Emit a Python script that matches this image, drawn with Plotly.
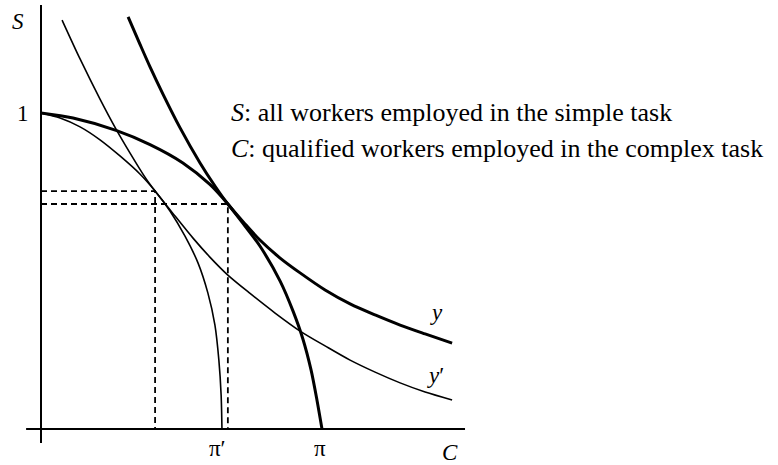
import plotly.graph_objects as go

# Production frontier with the full pool of qualified workers (ends at pi)
frontier_C = [0.0, 0.114, 0.267, 0.388, 0.505, 0.601, 0.665, 0.726, 0.779, 0.851, 0.897, 0.932, 0.961, 0.982, 1.0]
frontier_S = [1.0, 0.984, 0.945, 0.900, 0.842, 0.774, 0.712, 0.642, 0.579, 0.468, 0.373, 0.285, 0.187, 0.092, 0.0]

# Production frontier with the reduced pool (ends at pi')
frontier2_C = [0.0, 0.068, 0.139, 0.210, 0.281, 0.352, 0.406, 0.459, 0.512, 0.559, 0.594, 0.619, 0.633, 0.641, 0.644]
frontier2_S = [1.0, 0.984, 0.956, 0.915, 0.864, 0.807, 0.753, 0.690, 0.611, 0.525, 0.430, 0.329, 0.218, 0.108, 0.0]

# Isoquant y
iso_y_C = [0.310, 0.352, 0.388, 0.434, 0.495, 0.566, 0.619, 0.665, 0.726, 0.779, 0.851, 0.922, 1.011, 1.100, 1.189, 1.278, 1.367, 1.463]
iso_y_S = [1.304, 1.218, 1.146, 1.060, 0.953, 0.842, 0.769, 0.712, 0.649, 0.598, 0.541, 0.494, 0.440, 0.396, 0.361, 0.329, 0.301, 0.272]

# Isoquant y'
iso_y2_C = [0.075, 0.139, 0.210, 0.267, 0.317, 0.370, 0.406, 0.477, 0.541, 0.601, 0.665, 0.744, 0.833, 0.922, 1.011, 1.100, 1.189, 1.278, 1.367, 1.463]
iso_y2_S = [1.294, 1.171, 1.044, 0.949, 0.873, 0.797, 0.753, 0.674, 0.604, 0.544, 0.487, 0.429, 0.367, 0.310, 0.263, 0.218, 0.180, 0.146, 0.117, 0.092]

# Tangency points (C, S)
tangent_y = (0.665, 0.712)
tangent_y2 = (0.406, 0.753)

PI = 1.0
PI_PRIME = 0.644

# Axis extents
C_MIN, C_MAX = -0.053, 1.509
S_MIN, S_MAX = -0.044, 1.342

SERIF = "Liberation Serif"
INK = "black"

fig = go.Figure()

def curve(cx, cy, width):
    fig.add_trace(go.Scatter(
        x=cx, y=cy, mode="lines",
        line=dict(color=INK, width=width, shape="spline", smoothing=0.8),
        hoverinfo="skip", showlegend=False,
    ))

curve(frontier_C, frontier_S, 3)
curve(frontier2_C, frontier2_S, 1.6)
curve(iso_y_C, iso_y_S, 3)
curve(iso_y2_C, iso_y2_S, 1.6)

# Dashed guides from each tangency point to both axes
for (tc, ts) in (tangent_y, tangent_y2):
    fig.add_trace(go.Scatter(
        x=[0, tc, tc], y=[ts, ts, 0], mode="lines",
        line=dict(color=INK, width=1.8, dash="6px,4px"),
        hoverinfo="skip", showlegend=False,
    ))

# Axes
fig.add_shape(type="line", x0=C_MIN, x1=C_MAX, y0=0, y1=0, line=dict(color=INK, width=2))
fig.add_shape(type="line", x0=0, x1=0, y0=S_MIN, y1=S_MAX, line=dict(color=INK, width=2))

def label(x, y, text, size=23, xanchor="center", yanchor="middle"):
    fig.add_annotation(x=x, y=y, text=text, showarrow=False,
                       font=dict(family=SERIF, size=size, color=INK),
                       xanchor=xanchor, yanchor=yanchor)

label(-0.082, 1.291, "<i>S</i>")
label(-0.035, 1.0, "1", xanchor="right")
label(1.456, -0.073, "<i>C</i>")
label(PI_PRIME - 0.016, -0.063, "π′")
label(PI - 0.007, -0.063, "π")
label(1.406, 0.370, "<i>y</i>")
label(1.404, 0.168, "<i>y</i>′")

label(0.669, 1.003, "<i>S</i>: all workers employed in the simple task", size=26, xanchor="left")
label(0.669, 0.889, "<i>C</i>: qualified workers employed in the complex task", size=26, xanchor="left")

fig.update_layout(
    width=778, height=465,
    margin=dict(l=0, r=0, t=0, b=0),
    paper_bgcolor="white", plot_bgcolor="white",
    xaxis=dict(range=[-0.1459, 2.6228], visible=False, fixedrange=True),
    yaxis=dict(range=[-0.1139, 1.3576], visible=False, fixedrange=True),
)

fig.write_html("out.html")
